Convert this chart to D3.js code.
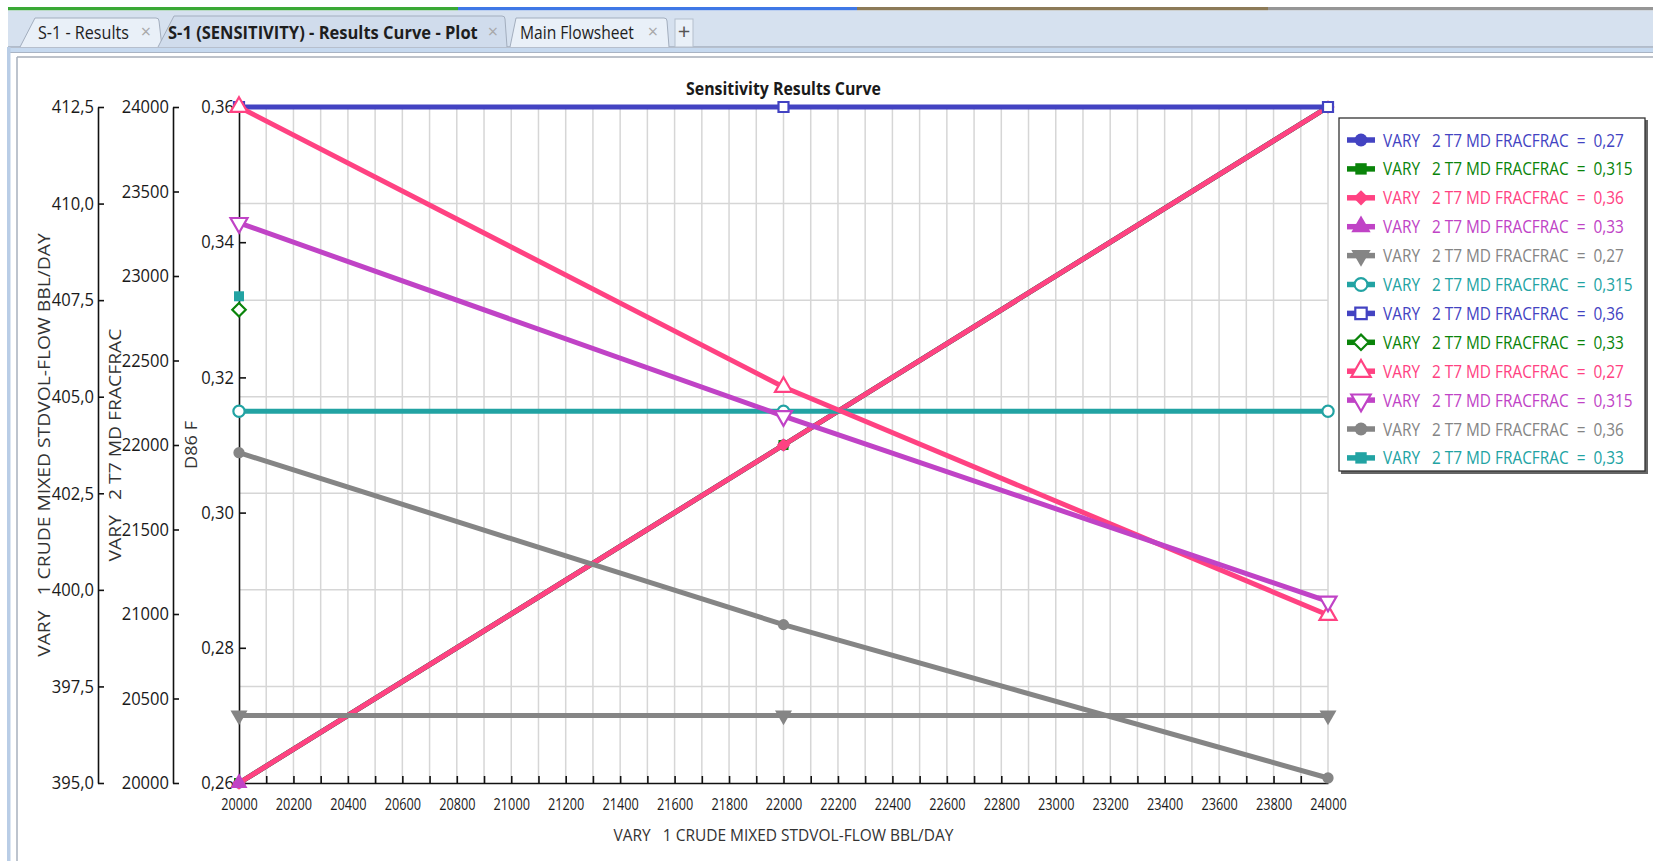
<!DOCTYPE html>
<html><head><meta charset="utf-8">
<script src="https://cdn.jsdelivr.net/npm/d3@7"></script>
<style>
html,body{margin:0;padding:0;background:#fff;}
svg{display:block;}
text{font-family:"Open Sans",sans-serif;}
</style></head><body>
<svg id="chart" width="1661" height="861"></svg>
<script>
// ---- data ----
const xValues = [20000, 22000, 24000];
const paramLabels = ["0,27", "0,315", "0,36", "0,33", "0,27", "0,315", "0,36", "0,33", "0,27", "0,315", "0,36", "0,33"];
// crude flow results (BBL/DAY), one list per FRACFRAC case
const flowSeries = [[20000, 22000, 24000], [20000, 22000, 24000], [20000, 22000, 24000], [20000]];
// T7 MD FRACFRAC results
const fracSeries = [[0.27, 0.27, 0.27], [0.315, 0.315, 0.315], [0.36, 0.36, 0.36], [0.33]];
// D86 temperature results (F)
const d86Series = [[412.5, 405.25, 399.35], [409.5, 404.5, 399.7], [403.55, 399.1, 395.13], [407.6]];
const d86Ticks = [395, 397.5, 400, 402.5, 405, 407.5, 410, 412.5];
const flowTicks = [20000, 20500, 21000, 21500, 22000, 22500, 23000, 23500, 24000];
const fracTicks = [0.26, 0.28, 0.30, 0.32, 0.34, 0.36];
const xTicks = [20000, 20200, 20400, 20600, 20800, 21000, 21200, 21400, 21600, 21800, 22000, 22200, 22400, 22600, 22800, 23000, 23200, 23400, 23600, 23800, 24000];
const xMinorTicks = d3.range(20000, 24001, 100);
const tabLabels = ["S-1 - Results", "S-1 (SENSITIVITY) - Results Curve - Plot", "Main Flowsheet"];
const chartTitle = "Sensitivity Results Curve";
const xTitle = "VARY   1 CRUDE MIXED STDVOL-FLOW BBL/DAY";
const yTitles = ["VARY   1 CRUDE MIXED STDVOL-FLOW BBL/DAY", "VARY   2 T7 MD FRACFRAC", "D86 F"];

// ---- styles ----
const C = {blue: "#4343c2", green: "#0a840a", pink: "#ff4282", magenta: "#c043c6", gray: "#858585", teal: "#22a3a3"};
const seriesStyle = [
  {color: C.blue, sym: d3.symbolCircle, open: false},
  {color: C.green, sym: d3.symbolSquare, open: false},
  {color: C.pink, sym: d3.symbolDiamond2, open: false},
  {color: C.magenta, sym: d3.symbolTriangle, open: false},
  {color: C.gray, sym: d3.symbolTriangle, open: false, down: true},
  {color: C.teal, sym: d3.symbolCircle, open: true},
  {color: C.blue, sym: d3.symbolSquare, open: true},
  {color: C.green, sym: d3.symbolDiamond2, open: true},
  {color: C.pink, sym: d3.symbolTriangle, open: true},
  {color: C.magenta, sym: d3.symbolTriangle, open: true, down: true},
  {color: C.gray, sym: d3.symbolCircle, open: false},
  {color: C.teal, sym: d3.symbolSquare, open: false}
];

const svg = d3.select("#chart");

// narrow a text horizontally by factor k (the UI font is a condensed face)
function condense(sel, k) {
  sel.each(function () {
    const t = d3.select(this);
    const tx = +(t.attr("x") || 0), ty = +(t.attr("y") || 0);
    const prev = t.attr("transform") || "";
    t.attr("x", 0).attr("y", 0)
      .attr("transform", `${prev} translate(${tx},${ty}) scale(${k},1)`);
  });
}
function fitTo(sel, w) {
  sel.each(function () {
    condense(d3.select(this), w / this.getComputedTextLength());
  });
}

// ---- window chrome: tab strip ----
const stripCols = [["#3aa935", 8, 458], ["#3f78e6", 458, 857], ["#8c7a58", 857, 1268], ["#969696", 1268, 1653]];
svg.selectAll("rect.strip").data(stripCols).join("rect")
  .attr("x", d => d[1]).attr("y", 7).attr("width", d => d[2] - d[1]).attr("height", 3.5).attr("fill", d => d[0]);
svg.append("rect").attr("x", 8).attr("y", 10.5).attr("width", 1645).attr("height", 37).attr("fill", "#d6e1ef");
svg.append("line").attr("x1", 8).attr("x2", 1653).attr("y1", 47).attr("y2", 47).attr("stroke", "#a4afbf").attr("stroke-width", 1.5);
svg.append("rect").attr("x", 8).attr("y", 48).attr("width", 1645).attr("height", 4).attr("fill", "#c6d9ef");
svg.append("line").attr("x1", 8).attr("x2", 1653).attr("y1", 52.5).attr("y2", 52.5).attr("stroke", "#a9b4c4").attr("stroke-width", 1);
svg.append("line").attr("x1", 17).attr("x2", 1653).attr("y1", 57).attr("y2", 57).attr("stroke", "#a7aeb9").attr("stroke-width", 1.5);
svg.append("rect").attr("x", 7).attr("y", 47).attr("width", 3.5).attr("height", 814).attr("fill", "#b9cde6");
svg.append("line").attr("x1", 17).attr("x2", 17).attr("y1", 57).attr("y2", 861).attr("stroke", "#a7b1be").attr("stroke-width", 1.5);

const tabs = [
  {x0: 20, x1: 35, x2: 159, x3: 162, active: false, tx: 38, tw: 91, cx: 146},
  {x0: 158, x1: 174, x2: 505, x3: 507, active: true, tx: 168, tw: 310, cx: 493},
  {x0: 510, x1: 516, x2: 667, x3: 669, active: false, tx: 520, tw: 114, cx: 653}
];
svg.selectAll("path.tab").data(tabs).join("path")
  .attr("d", d => `M${d.x0},47 L${d.x1},${d.active ? 16 : 18} L${d.x2 - 3},${d.active ? 16 : 18} Q${d.x2},${d.active ? 16 : 18} ${d.x2},${d.active ? 19 : 21} L${d.x3},47`)
  .attr("fill", d => d.active ? "#d0dcec" : "#e9f0f8").attr("stroke", "#a3aebe").attr("stroke-width", 1);
svg.selectAll("text.tab").data(tabs).join("text").attr("class", "tab")
  .attr("x", d => d.tx).attr("y", 38.5).attr("font-size", 18)
  .attr("font-weight", d => d.active ? 700 : 400).attr("fill", "#1e1e1e")
  .text((d, i) => tabLabels[i])
  .each(function (d) { fitTo(d3.select(this), d.tw); });
svg.selectAll("text.close").data(tabs).join("text").attr("class", "close")
  .attr("x", d => d.cx).attr("y", 37.5).attr("text-anchor", "middle")
  .attr("font-size", 18).attr("fill", "#a8a8a8").text("×");
svg.append("rect").attr("x", 675).attr("y", 19).attr("width", 18).attr("height", 28).attr("fill", "#e9f0f8").attr("stroke", "#b4bfcd");
svg.append("text").attr("x", 684).attr("y", 39).attr("text-anchor", "middle").attr("font-size", 22).attr("fill", "#555").text("+");

// ---- chart frame ----
const L = 239, R = 1328, T = 107, B = 783;
const x = d3.scaleLinear().domain([20000, 24000]).range([L, R]);
const yD86 = d3.scaleLinear().domain([395, 412.5]).range([B, T]);
const yFlow = d3.scaleLinear().domain([20000, 24000]).range([B, T]);
const yFrac = d3.scaleLinear().domain([0.26, 0.36]).range([B, T]);
const comma = f => v => d3.format(f)(v).replace(".", ",");

// grid
svg.append("g").selectAll("line").data(xMinorTicks.slice(1)).join("line")
  .attr("x1", d => x(d)).attr("x2", d => x(d)).attr("y1", T).attr("y2", B)
  .attr("stroke", "#d6d6d6").attr("stroke-width", 1.5);
svg.append("g").selectAll("line").data(d86Ticks.slice(1, -1)).join("line")
  .attr("x1", L).attr("x2", R).attr("y1", d => yD86(d)).attr("y2", d => yD86(d))
  .attr("stroke", "#d6d6d6").attr("stroke-width", 1.5);

// axes
function styleAxis(g, fs) {
  g.select(".domain").attr("stroke", "#111").attr("stroke-width", 1.6);
  g.selectAll(".tick line").attr("stroke", "#111").attr("stroke-width", 1.6);
  g.selectAll("text").attr("font-family", "Open Sans").attr("font-size", fs).attr("fill", "#1a1a1a");
}
const axD86 = svg.append("g").attr("transform", "translate(98,0)")
  .call(d3.axisLeft(yD86).tickValues(d86Ticks).tickFormat(comma(".1f")).tickSizeInner(-6).tickSizeOuter(0).tickPadding(4));
styleAxis(axD86, 18);
const axFlow = svg.append("g").attr("transform", "translate(173,0)")
  .call(d3.axisLeft(yFlow).tickValues(flowTicks).tickFormat(d3.format("d")).tickSizeInner(-6).tickSizeOuter(0).tickPadding(4));
styleAxis(axFlow, 18);
const axFrac = svg.append("g").attr("transform", `translate(${L},0)`)
  .call(d3.axisLeft(yFrac).tickValues(fracTicks).tickFormat(comma(".2f")).tickSizeInner(-7).tickSizeOuter(0).tickPadding(5));
styleAxis(axFrac, 18);
const axX = svg.append("g").attr("transform", `translate(0,${B})`)
  .call(d3.axisBottom(x).tickValues(xMinorTicks).tickFormat(d => xTicks.includes(d) ? d3.format("d")(d) : "").tickSizeInner(-7).tickSizeOuter(0).tickPadding(16));
styleAxis(axX, 15.5);
[axD86, axFlow, axFrac].forEach(a => condense(a.selectAll("text"), 0.92));
condense(axX.selectAll("text").filter(function () { return this.textContent !== ""; }), 0.82);

// titles
const tt = svg.append("text").attr("x", (L + R) / 2).attr("y", 95).attr("text-anchor", "middle")
  .attr("font-size", 18.5).attr("font-weight", 700).attr("fill", "#1a1a1a").text(chartTitle);
fitTo(tt, 195);
const xt = svg.append("text").attr("x", (L + R) / 2).attr("y", 841).attr("text-anchor", "middle")
  .attr("font-size", 17).attr("fill", "#333").style("white-space", "pre").text(xTitle);
fitTo(xt, 340);
const yTitleX = [50, 121, 197];
const yTitleW = [424, 233, 48];
yTitles.forEach((t, i) => {
  const yt = svg.append("text").attr("transform", `translate(${yTitleX[i]},${(T + B) / 2}) rotate(-90)`)
    .attr("text-anchor", "middle").attr("font-size", 17).attr("fill", "#333")
    .style("white-space", "pre").text(t);
  fitTo(yt, yTitleW[i]);
});

// ---- series ----
const groups = [
  {scale: yFlow, data: flowSeries},
  {scale: yFrac, data: fracSeries},
  {scale: yD86, data: d86Series}
];
const series = [];
groups.forEach(g => g.data.forEach(vals => series.push({scale: g.scale, pts: vals.map((v, i) => [xValues[i], v])})));

function marker(sel, st, sizeScale) {
  const base = st.sym === d3.symbolTriangle ? 125 : (st.sym === d3.symbolDiamond2 ? 115 : 100);
  sel.attr("d", d3.symbol().type(st.sym).size(base * (sizeScale || 1)))
    .attr("fill", st.open ? "#fff" : st.color)
    .attr("stroke", st.color).attr("stroke-width", st.open ? 2.2 : 0);
}

const plot = svg.append("g");
series.forEach((s, i) => {
  const st = seriesStyle[i];
  const g = plot.append("g");
  if (s.pts.length > 1) {
    g.append("path").datum(s.pts)
      .attr("d", d3.line().x(d => x(d[0])).y(d => s.scale(d[1])))
      .attr("fill", "none").attr("stroke", st.color).attr("stroke-width", 5).attr("stroke-linejoin", "round");
  }
  g.selectAll("path.m").data(s.pts).join("path").attr("class", "m")
    .attr("transform", d => `translate(${x(d[0])},${s.scale(d[1])})${st.down ? " rotate(180)" : ""}`)
    .call(marker, st);
});

// ---- legend ----
const lg = svg.append("g");
lg.append("rect").attr("x", 1341).attr("y", 120).attr("width", 307).attr("height", 354).attr("fill", "#666");
lg.append("rect").attr("x", 1339).attr("y", 118).attr("width", 306).attr("height", 353)
  .attr("fill", "#fff").attr("stroke", "#333").attr("stroke-width", 1.3);
const rowY = i => 140 + i * 28.9;
seriesStyle.forEach((st, i) => {
  const y = rowY(i);
  lg.append("line").attr("x1", 1347).attr("x2", 1375).attr("y1", y).attr("y2", y)
    .attr("stroke", st.color).attr("stroke-width", 5.5);
  lg.append("path").attr("transform", `translate(1361,${y})${st.down ? " rotate(180)" : ""}`).call(marker, st, 1.3);
  const t = lg.append("text").attr("x", 1383).attr("y", y + 6.5).attr("font-size", 18)
    .attr("fill", st.color).style("white-space", "pre")
    .text(`VARY   2 T7 MD FRACFRAC  =  ${paramLabels[i]}`);
  condense(t, 0.855);
});
</script>
</body></html>
